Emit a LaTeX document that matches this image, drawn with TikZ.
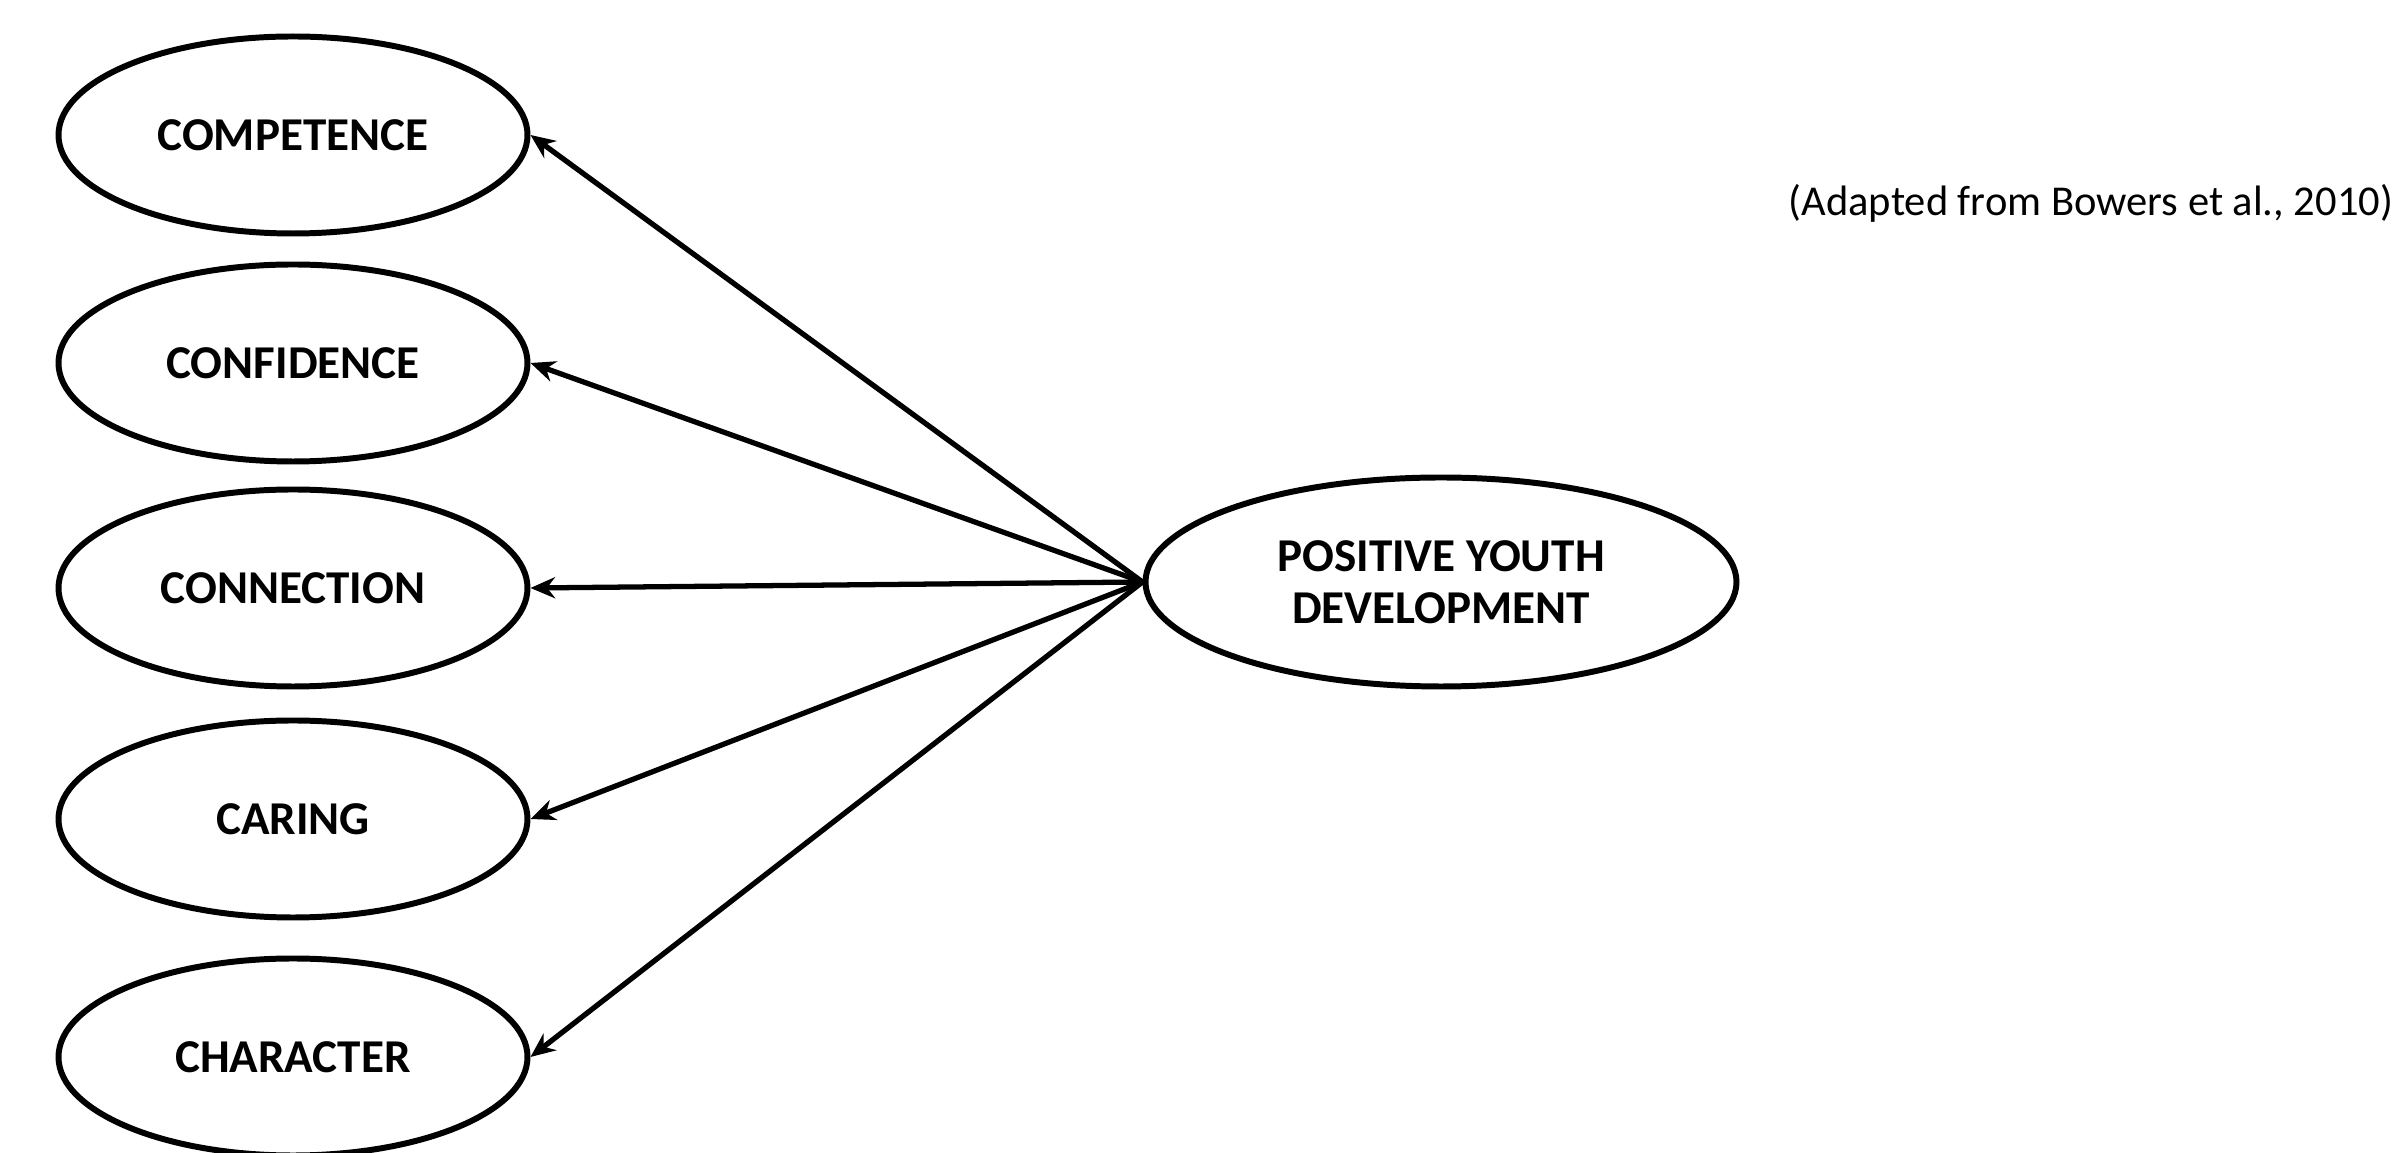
\documentclass[tikz,border=0pt]{standalone}
\usepackage{fontspec}
\setmainfont{Carlito}
\usepackage{tikz}
\usetikzlibrary{shapes,arrows.meta}

\tikzset{
  factor/.style={draw,ellipse,line width=1.7pt,minimum width=4.69cm,minimum height=1.97cm,inner sep=0pt,font=\bfseries\fontsize{13.4}{14.8}\selectfont},
  load/.style={line width=1.5pt,-{Stealth[length=7pt,width=6pt]}}
}

\begin{document}
\begin{tikzpicture}
  \useasboundingbox (0,0) rectangle (23.95,-11.53);
  \node[factor] (comp) at (2.93,-1.35) {COMPETENCE};
  \node[factor] (conf) at (2.93,-3.63) {CONFIDENCE};
  \node[factor] (conn) at (2.93,-5.88) {CONNECTION};
  \node[factor] (car) at (2.93,-8.19) {CARING};
  \node[factor] (char) at (2.93,-10.57) {CHARACTER};
  \node[factor,minimum width=5.91cm,minimum height=2.09cm,align=center] (pyd) at (14.41,-5.82) {POSITIVE YOUTH\\DEVELOPMENT};
  \draw[load] (pyd.west) -- (comp.east);
  \draw[load] (pyd.west) -- (conf.east);
  \draw[load] (pyd.west) -- (conn.east);
  \draw[load] (pyd.west) -- (car.east);
  \draw[load] (pyd.west) -- (char.east);
  \node[anchor=west,inner sep=0pt,font=\fontsize{12.1}{14}\selectfont] (src) at (17.88,-2.03) {(Adapted from Bowers et al., 2010)};
\end{tikzpicture}
\end{document}
